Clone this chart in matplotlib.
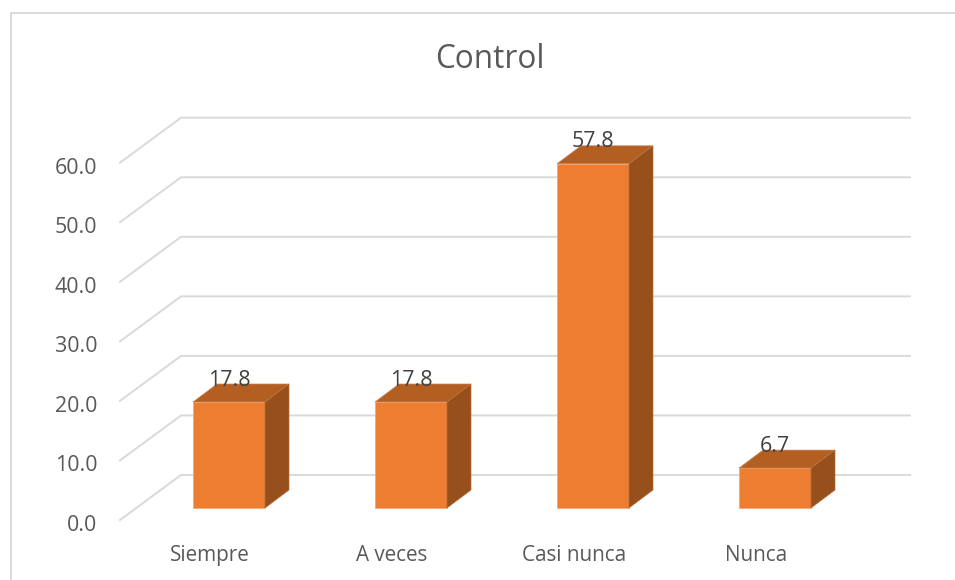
"""
Control: pseudo-3D column chart
"""

import matplotlib
matplotlib.use('Agg')
import matplotlib.pyplot as plt
from matplotlib.lines import Line2D
from matplotlib.patches import Polygon

plt.rcParams['font.family'] = ['Open Sans', 'DejaVu Sans']

# Data
categories = ['Siempre', 'A veces', 'Casi nunca', 'Nunca']
values = [17.8, 17.8, 57.8, 6.7]
ticks = [0, 10, 20, 30, 40, 50, 60]

W, H = 955, 580
X0 = 229       # pixel centre of first bar
STEP = 182     # pixels between categories
BASE = 508     # pixel row of value 0 on the bar front
UNIT = 5.955   # pixels per value unit
BAR_W = 72 / STEP

# Colours
ORANGE = '#ED7D31'
TOP = '#B45F22'
SIDE = '#974F1B'
GRID = '#D9D9D9'
TEXT = '#595959'
LABEL = '#404040'


def depth(px_x, px_y):
    """Convert a pixel offset into data units"""
    return px_x / STEP, px_y / UNIT


fig = plt.figure(figsize=(W / 100, H / 100), dpi=100)
ax = fig.add_axes([0, 0, 1, 1])
ax.set_xlim(-X0 / STEP, (W - X0) / STEP)
ax.set_ylim((BASE - H) / UNIT, BASE / UNIT)
ax.axis('off')

# Chart frame
fig.add_artist(Line2D([10.5 / W, 10.5 / W, 1], [0, 1 - 13 / H, 1 - 13 / H],
                      color=GRID, linewidth=1.4))

# Gridlines: floor edge plus back wall
front_x = (120 - X0) / STEP
back_x = (181 - X0) / STEP
right_x = (910 - X0) / STEP
front_off = -12 / UNIT
back_off = 33 / UNIT
for t in ticks:
    ax.plot([front_x, back_x, right_x],
            [t + front_off, t + back_off, t + back_off],
            color=GRID, linewidth=1.4, zorder=1, solid_joinstyle='miter')
    ax.text((97.5 - X0) / STEP, t + front_off - 5.5 / UNIT, f'{t:.1f}',
            ha='right', va='center', fontsize=15.4, color=TEXT, zorder=5)

# Bars
dx, dy = depth(24, 18)
for i, v in enumerate(values):
    left = i - BAR_W / 2
    right = i + BAR_W / 2
    ax.add_patch(Polygon([(left, 0), (right, 0), (right, v), (left, v)],
                         facecolor=ORANGE, edgecolor='#F4A777', linewidth=0.6, zorder=3))
    ax.add_patch(Polygon([(left, v), (right, v), (right + dx, v + dy), (left + dx, v + dy)],
                         facecolor=TOP, edgecolor='#C98453', linewidth=0.5, zorder=3))
    ax.add_patch(Polygon([(right, 0), (right + dx, dy), (right + dx, v + dy), (right, v)],
                         facecolor=SIDE, edgecolor='#B5703D', linewidth=0.5, zorder=3))
    ax.text(i, v + 22 / UNIT, f'{v:.1f}', ha='center', va='center',
            fontsize=15.4, color=LABEL, zorder=6)
    ax.text(i - 19 / STEP, -47.5 / UNIT, categories[i], ha='center', va='center',
            fontsize=14.9, color=TEXT, zorder=5)

# Title
ax.text((489.5 - X0) / STEP, (BASE - 59) / UNIT, 'Control', ha='center', va='center',
        fontsize=22.7, color=TEXT)

fig.savefig('out.png', dpi=100)
